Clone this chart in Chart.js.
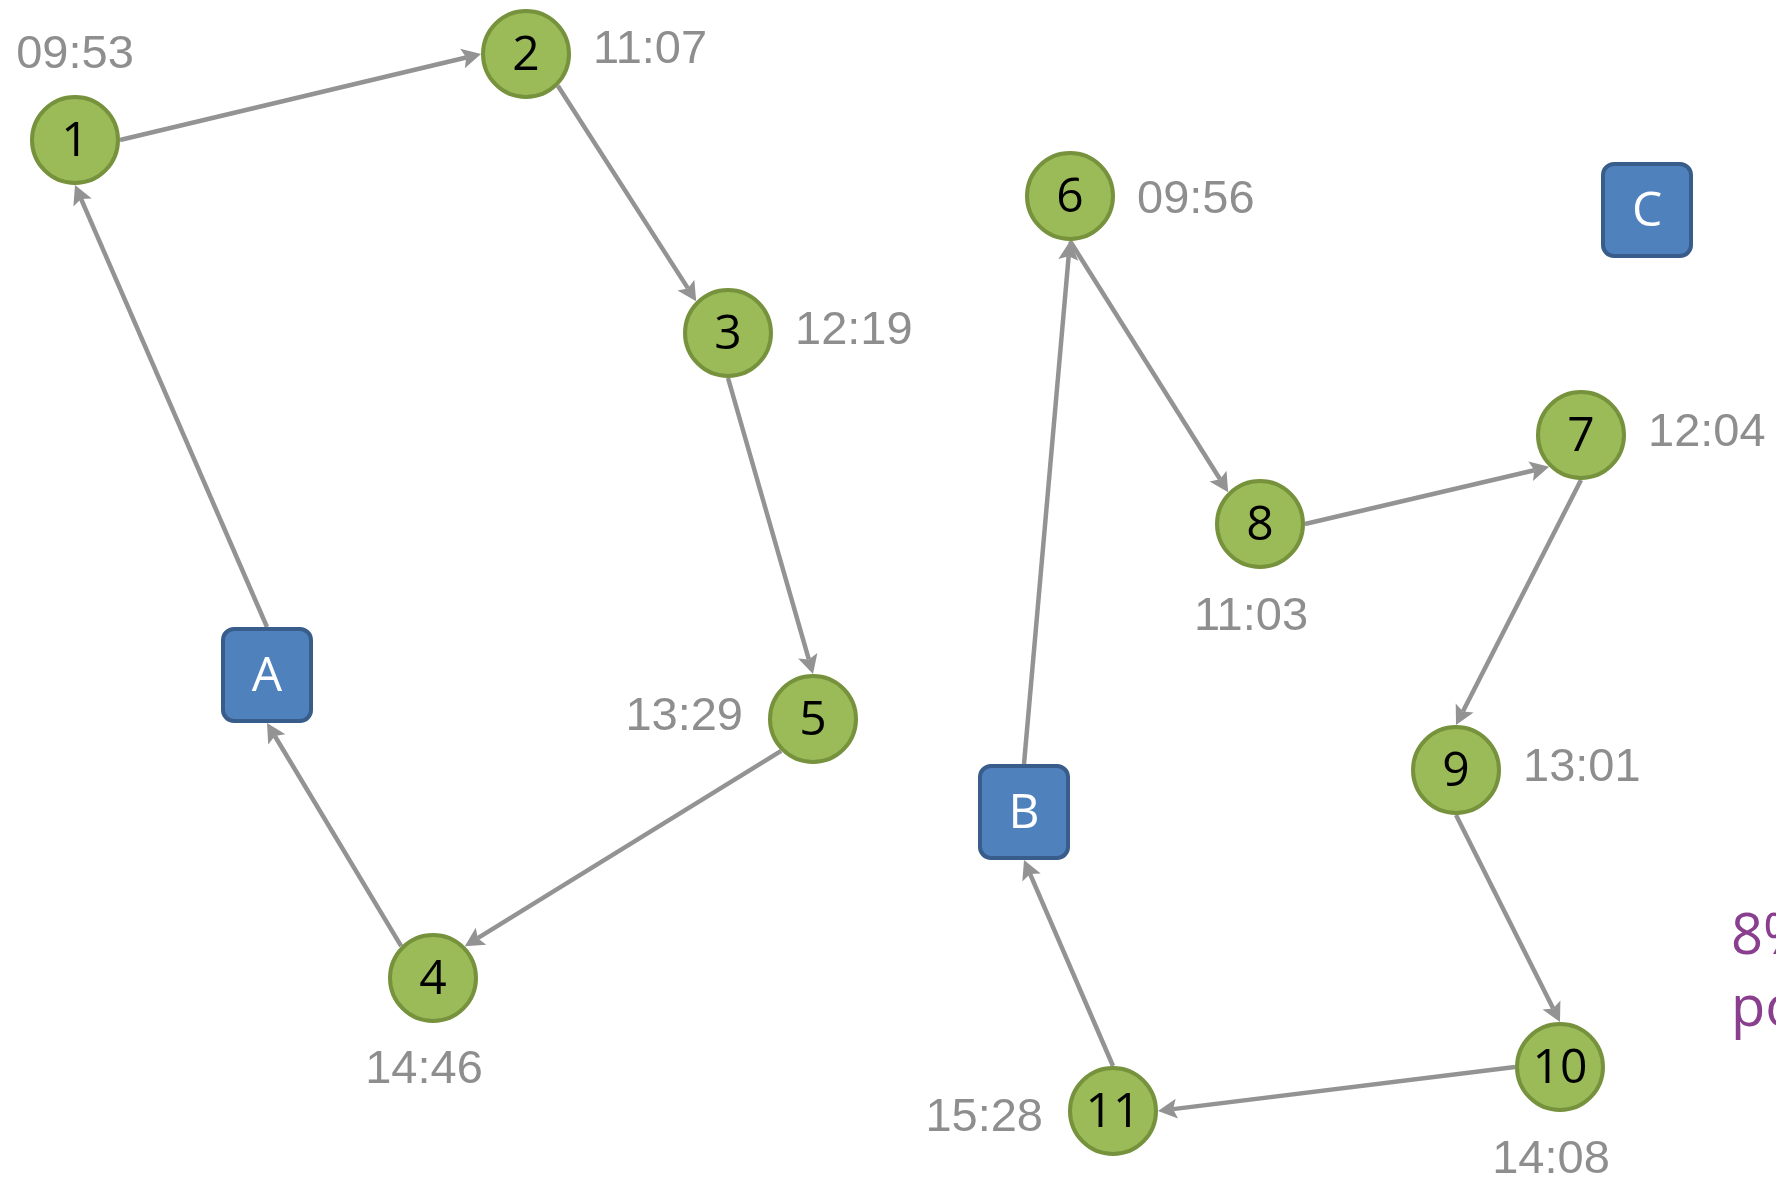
<!DOCTYPE html>
<html>
<head>
<meta charset="utf-8">
<script src="https://cdn.jsdelivr.net/npm/chart.js@4/dist/chart.umd.min.js"></script>
<style>
  html, body { margin: 0; padding: 0; background: #fff; overflow: hidden; }
  canvas { display: block; }
</style>
</head>
<body>
<canvas id="diagram" width="1776" height="1178"></canvas>
<script>
// Stops (green circles) and their times
const stopLabels = ['1', '2', '3', '4', '5', '6', '7', '8', '9', '10', '11'];
const stopX = [75, 526, 728, 433, 813, 1070, 1581, 1260, 1456, 1560, 1113];
const stopY = [140, 54, 333, 978, 719, 196, 435, 524, 770, 1067, 1111];
const stopTimes = ['09:53', '11:07', '12:19', '14:46', '13:29', '09:56', '12:04', '11:03', '13:01', '14:08', '15:28'];
const timeSide = ['above', 'right', 'right', 'below', 'left', 'right', 'right', 'below', 'right', 'below', 'left'];
const timeNudge = [3, -2, 0, 2, 0, 6, 0, 3, 0, 3, 9];   // small vertical tweaks per label

// Depots (blue boxes)
const depotLabels = ['A', 'B', 'C'];
const depotX = [267, 1024, 1647];
const depotY = [675, 812, 210];

// Routes, with the side of each shape the connector is glued to
const edgeFrom  = ['A', '1', '2',  '3', '5',  '4',  'B', '6', '8', '7', '9', '10', '11'];
const edgeTo    = ['1', '2', '3',  '5', '4',  'A',  '6', '8', '7', '9', '10', '11', 'B'];
const fromSide  = ['n', 'e', 'se', 's', 'sw', 'nw', 'n', 's', 'e', 's', 's', 'w',  'n'];
const toSide    = ['s', 'w', 'nw', 'n', 'ne', 's',  's', 'nw', 'sw', 'n', 'n', 'e', 's'];

// cut-off note on the right
const noteLines = ['8%', 'po'];

const W = 1776, H = 1178;
const R = 45;                  // circle outer radius
const BOX_W = 46, BOX_H = 48;  // half sizes of the depot boxes

const DIRS = {
  n: [0, -1], s: [0, 1], e: [1, 0], w: [-1, 0],
  ne: [Math.SQRT1_2, -Math.SQRT1_2], nw: [-Math.SQRT1_2, -Math.SQRT1_2],
  se: [Math.SQRT1_2, Math.SQRT1_2], sw: [-Math.SQRT1_2, Math.SQRT1_2]
};

function nodePos(chart, name) {
  const xs = chart.scales.x, ys = chart.scales.y;
  let i = stopLabels.indexOf(name);
  if (i >= 0) return { x: xs.getPixelForValue(stopX[i]), y: ys.getPixelForValue(stopY[i]), box: false };
  i = depotLabels.indexOf(name);
  return { x: xs.getPixelForValue(depotX[i]), y: ys.getPixelForValue(depotY[i]), box: true };
}

function gluePoint(n, side) {
  const d = DIRS[side];
  if (n.box) return { x: n.x + d[0] * BOX_W, y: n.y + d[1] * BOX_H };
  return { x: n.x + d[0] * R, y: n.y + d[1] * R };
}

const diagramPlugin = {
  id: 'diagram',
  beforeDatasetsDraw(chart) {
    const ctx = chart.ctx;
    ctx.save();
    ctx.strokeStyle = '#939393';
    ctx.fillStyle = '#939393';
    ctx.lineWidth = 4.5;
    for (let k = 0; k < edgeFrom.length; k++) {
      const p0 = gluePoint(nodePos(chart, edgeFrom[k]), fromSide[k]);
      const p1 = gluePoint(nodePos(chart, edgeTo[k]), toSide[k]);
      const dx = p1.x - p0.x, dy = p1.y - p0.y;
      const len = Math.hypot(dx, dy);
      const ux = dx / len, uy = dy / len;
      const head = 19, half = 10;
      ctx.beginPath();
      ctx.moveTo(p0.x, p0.y);
      ctx.lineTo(p1.x - ux * head * 0.8, p1.y - uy * head * 0.8);
      ctx.stroke();
      ctx.beginPath();
      ctx.moveTo(p1.x, p1.y);
      ctx.lineTo(p1.x - ux * head - uy * half, p1.y - uy * head + ux * half);
      ctx.lineTo(p1.x - ux * head * 0.8, p1.y - uy * head * 0.8);
      ctx.lineTo(p1.x - ux * head + uy * half, p1.y - uy * head - ux * half);
      ctx.closePath();
      ctx.fill();
    }
    ctx.restore();
  },
  afterDatasetsDraw(chart) {
    const ctx = chart.ctx;
    ctx.save();

    // depot boxes
    depotLabels.forEach((name) => {
      const p = nodePos(chart, name);
      ctx.beginPath();
      ctx.roundRect(p.x - BOX_W + 2, p.y - BOX_H + 2, (BOX_W - 2) * 2, (BOX_H - 2) * 2, 11);
      ctx.fillStyle = '#4F81BD';
      ctx.fill();
      ctx.lineWidth = 4;
      ctx.strokeStyle = '#385D8A';
      ctx.stroke();
      ctx.fillStyle = '#ffffff';
      ctx.font = '48px "Open Sans", "Noto Sans", sans-serif';
      ctx.textAlign = 'center';
      ctx.textBaseline = 'middle';
      ctx.fillText(name, p.x, p.y + 2);
    });

    // stop numbers
    ctx.fillStyle = '#000000';
    ctx.font = '48px "Open Sans", "Noto Sans", sans-serif';
    ctx.textAlign = 'center';
    ctx.textBaseline = 'middle';
    stopLabels.forEach((name) => {
      const p = nodePos(chart, name);
      ctx.fillText(name, p.x, p.y + 2);
    });

    // times
    ctx.fillStyle = '#8E8E8E';
    ctx.font = '47px "Liberation Sans", Arial, sans-serif';
    stopLabels.forEach((name, i) => {
      const p = nodePos(chart, name);
      const side = timeSide[i];
      const dy = timeNudge[i];
      if (side === 'right') {
        ctx.textAlign = 'left';
        ctx.fillText(stopTimes[i], p.x + 67, p.y - 2 + dy);
      } else if (side === 'left') {
        ctx.textAlign = 'right';
        ctx.fillText(stopTimes[i], p.x - 70, p.y - 2 + dy);
      } else if (side === 'above') {
        ctx.textAlign = 'center';
        ctx.fillText(stopTimes[i], p.x, p.y - 88 + dy);
      } else {
        ctx.textAlign = 'center';
        ctx.fillText(stopTimes[i], p.x - 9, p.y + 90 + dy);
      }
    });

    // note cut at the right edge
    ctx.fillStyle = '#8A3E8E';
    ctx.font = '56px "Open Sans", "Noto Sans", sans-serif';
    ctx.textAlign = 'left';
    ctx.fillText(noteLines[0], 1731, 938);
    ctx.fillText(noteLines[1], 1731, 1010);
    ctx.restore();
  }
};

const ctx = document.getElementById('diagram').getContext('2d');
new Chart(ctx, {
  type: 'scatter',
  data: {
    datasets: [{
      data: stopX.map((x, i) => ({ x: x, y: stopY[i] })),
      pointRadius: 43,
      pointHoverRadius: 43,
      pointBackgroundColor: '#9BBB59',
      pointBorderColor: '#76923C',
      pointBorderWidth: 4,
      pointHoverBorderWidth: 4,
      clip: false
    }]
  },
  options: {
    responsive: false,
    animation: false,
    events: [],
    layout: { padding: 0, autoPadding: false },
    plugins: { legend: { display: false }, tooltip: { enabled: false } },
    scales: {
      x: { type: 'linear', min: 0, max: W, display: false },
      y: { type: 'linear', min: 0, max: H, reverse: true, display: false }
    }
  },
  plugins: [diagramPlugin]
});
</script>
</body>
</html>
